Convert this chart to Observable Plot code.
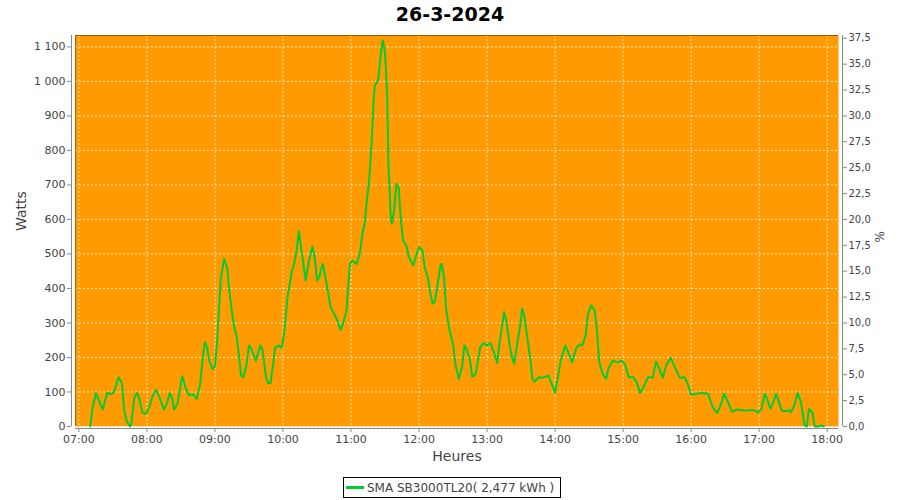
<!DOCTYPE html>
<html>
<head>
<meta charset="utf-8">
<script src="https://cdn.jsdelivr.net/npm/d3@7"></script>
<script src="https://cdn.jsdelivr.net/npm/@observablehq/plot@0.6"></script>
<style>
  body { margin: 0; background: #fff; font-family: "DejaVu Sans", sans-serif; }
  #title { height: 30px; line-height: 28px; text-align: center; font-size: 19px; font-weight: bold; color: #000; }
  #chart { height: 440px; }
  #legend { position: absolute; left: 343px; top: 477px; height: 19px; border: 1px solid #000; padding: 0 6px 0 2px;
            font-size: 12px; color: #444; display: flex; align-items: center; white-space: nowrap; }
  #legend .sw { display: inline-block; width: 18px; height: 3px; background: #00cc33; margin-right: 3px; position: relative; }
</style>
</head>
<body>
<div id="title">26-3-2024</div>
<div id="chart"></div>
<div id="legend"><span class="sw"></span>SMA SB3000TL20( 2,477 kWh )</div>
<script>
const times = ["07:10","07:12","07:15","07:21","07:25","07:29","07:31","07:35","07:38","07:40","07:42","07:45","07:46","07:49","07:51","07:53","07:56","07:59",
"08:02","08:05","08:08","08:11","08:15","08:18","08:20","08:22","08:24","08:27","08:31","08:32","08:34","08:37","08:40","08:43","08:44","08:47","08:49","08:51","08:53","08:55","08:58",
"09:00","09:02","09:05","09:08","09:11","09:12","09:15","09:17","09:19","09:21","09:23","09:25","09:28","09:30","09:32","09:36","09:38","09:40","09:42","09:45","09:47","09:49","09:51","09:53","09:56","09:59",
"10:01","10:04","10:08","10:10","10:12","10:14","10:20","10:23","10:26","10:28","10:30","10:32","10:35","10:36","10:39","10:42","10:45","10:48","10:51","10:53","10:56","10:59",
"11:01","11:05","11:08","11:10","11:12","11:14","11:16","11:18","11:20","11:21","11:24","11:25","11:27","11:28","11:30","11:32","11:33","11:35","11:36","11:38","11:40","11:42","11:44","11:46","11:49","11:51","11:55","11:57",
"12:00","12:03","12:05","12:08","12:10","12:12","12:14","12:16","12:19","12:20","12:22","12:24","12:27","12:30","12:32","12:35","12:38","12:40","12:42","12:45","12:47","12:50","12:54","12:57",
"13:00","13:03","13:06","13:09","13:11","13:15","13:17","13:20","13:22","13:24","13:27","13:29","13:31","13:33","13:35","13:38","13:40","13:42","13:46","13:49","13:54","13:57",
"14:00","14:02","14:05","14:09","14:11","14:15","14:19","14:22","14:24","14:27","14:29","14:32","14:35","14:37","14:39","14:42","14:45","14:47","14:51","14:55","14:59",
"15:02","15:05","15:09","15:12","15:15","15:18","15:22","15:26","15:29","15:32","15:35","15:38","15:42","15:47","15:50","15:54","15:57",
"16:00","16:04","16:10","16:15","16:19","16:23","16:26","16:29","16:32","16:36","16:40","16:44","16:48","16:53","16:57","16:59",
"17:02","17:05","17:07","17:10","17:12","17:15","17:17","17:20","17:24","17:26","17:28","17:31","17:34","17:37","17:40","17:42","17:44","17:47","17:49","17:52","17:55","17:57"];
const watts = [0,52,97,49,97,94,100,143,125,46,17,0,5,85,97,85,41,36,
55,90,106,85,49,70,97,85,49,67,145,138,114,90,94,85,80,125,191,244,230,190,166,
175,249,423,486,457,413,331,288,263,211,148,143,181,235,226,190,212,235,222,143,125,125,172,228,235,228,
268,375,452,473,510,566,423,481,522,491,423,433,471,457,404,346,327,307,280,298,336,471,
481,471,505,558,587,655,713,810,945,988,1003,1037,1100,1119,1085,955,761,612,587,626,703,694,597,539,522,491,467,491,
520,510,462,428,385,356,363,404,467,471,433,336,278,240,182,138,172,235,225,191,143,153,230,242,
235,242,215,184,240,331,307,235,201,182,249,288,341,317,269,201,138,130,143,141,148,124,
98,133,191,235,220,186,230,238,235,264,327,351,336,278,186,153,138,167,191,186,191,
177,143,143,128,97,114,143,141,188,167,141,177,199,162,141,143,124,
92,95,97,95,56,39,61,95,75,43,49,48,46,48,46,40,
51,95,80,51,66,95,75,46,44,48,41,61,97,70,3,0,51,41,0,0,3,0];
const leftTicks = [0,100,200,300,400,500,600,700,800,900,1000,1100];
const rightTicks = [0,2.5,5,7.5,10,12.5,15,17.5,20,22.5,25,27.5,30,32.5,35,37.5];
const hourTicks = ["07:00","08:00","09:00","10:00","11:00","12:00","13:00","14:00","15:00","16:00","17:00","18:00"];
const nominalW = 3000;

const toDate = s => { const [h, m] = s.split(":").map(Number); return new Date(Date.UTC(2024, 2, 26, h, m)); };
const data = times.map((t, i) => ({t: toDate(t), w: watts[i]}));
const hours = hourTicks.map(toDate);
const xDomain = [toDate("06:57"), toDate("18:10")];
const yMax = 1133;
const fmtW = d => d3.format(",")(d).replace(/,/g, "\u00a0");
const fmtP = d => d.toFixed(1).replace(".", ",");
const gridColor = "rgba(255,255,255,0.75)";

const chart = Plot.plot({
  width: 900, height: 440,
  marginTop: 5, marginBottom: 44, marginLeft: 75, marginRight: 62,
  style: {fontFamily: "DejaVu Sans, sans-serif", fontSize: "11px", color: "#444", background: "#fff"},
  x: {type: "utc", domain: xDomain},
  y: {domain: [0, yMax]},
  marks: [
    Plot.frame({fill: "#ff9a00", stroke: null}),
    Plot.gridY(leftTicks, {stroke: gridColor, strokeOpacity: 1, strokeDasharray: "2,2"}),
    Plot.gridX(hours, {stroke: gridColor, strokeOpacity: 1, strokeDasharray: "2,2"}),
    Plot.ruleY([yMax], {stroke: "#8a5a00", strokeWidth: 1}),
    Plot.ruleX([xDomain[0]], {stroke: "#a86500", strokeWidth: 1}),
    Plot.line(data, {x: "t", y: "w", stroke: "#00cc33", strokeWidth: 2}),
    // axis lines
    Plot.ruleX([xDomain[0]], {dx: -4, stroke: "#888"}),
    Plot.ruleX([xDomain[1]], {dx: 4, stroke: "#888"}),
    Plot.ruleY([0], {dy: 2, stroke: "#888"}),
    Plot.axisY(leftTicks, {anchor: "left", dx: -4, tickSize: 4, tickPadding: 2, tickFormat: fmtW, fill: "#444", stroke: "#888", fontSize: 11, label: null}),
    Plot.axisY(rightTicks.map(p => p * nominalW / 100), {anchor: "right", dx: 4, tickSize: 4, tickPadding: 2, tickFormat: w => fmtP(w * 100 / nominalW), fill: "#444", stroke: "#888", fontSize: 10, label: null}),
    Plot.axisX(hours, {anchor: "bottom", dy: 2, tickSize: 4, tickPadding: 3, tickFormat: d3.utcFormat("%H:%M"), fill: "#444", stroke: "#888", fontSize: 11, label: null}),
    Plot.text(["Watts"], {frameAnchor: "left", dx: -54, rotate: -90, fontSize: 14, fill: "#444"}),
    Plot.text(["%"], {frameAnchor: "right", dx: 42, rotate: -90, fontSize: 12, fill: "#444"}),
    Plot.text(["Heures"], {frameAnchor: "bottom", dy: 34, fontSize: 14, fill: "#444"})
  ]
});
document.getElementById("chart").appendChild(chart);
</script>
</body>
</html>
